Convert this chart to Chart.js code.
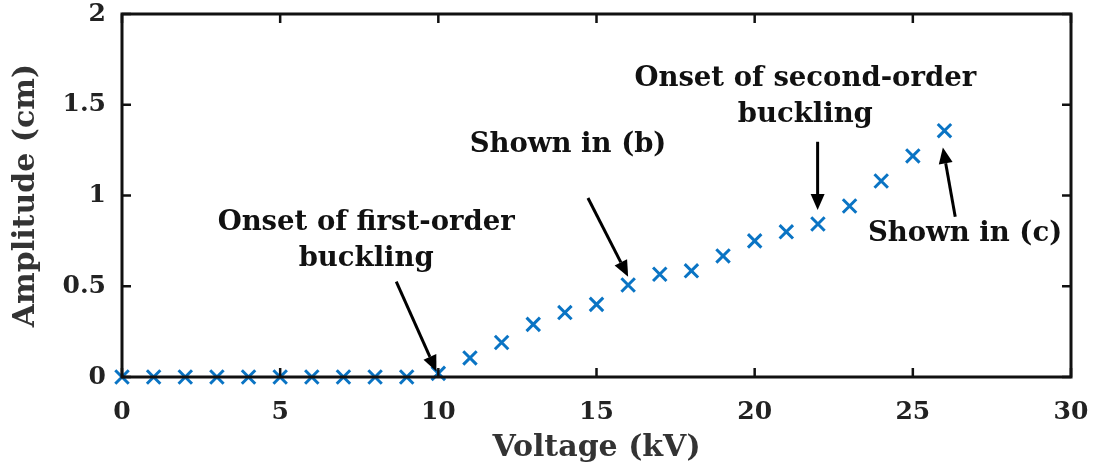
<!DOCTYPE html>
<html>
<head>
<meta charset="utf-8">
<script src="https://cdn.jsdelivr.net/npm/chart.js@4.4.1/dist/chart.umd.min.js"></script>
<style>
  html, body { margin: 0; padding: 0; background: #fff; }
  #wrap { width: 1098px; height: 473px; position: relative; }
</style>
</head>
<body>
<div id="wrap"><canvas id="c"></canvas></div>
<script>
// ---- data ----
const voltage = [0,1,2,3,4,5,6,7,8,9,10,11,12,13,14,15,16,17,18,19,20,21,22,23,24,25,26];
const amplitude = [0,0,0,0,0,0,0,0,0,0,0.02,0.105,0.19,0.29,0.355,0.40,0.507,0.566,0.585,0.667,0.75,0.80,0.843,0.942,1.08,1.218,1.357];
const xTicks = [0,5,10,15,20,25,30];
const yTicks = [0,0.5,1,1.5,2];
const xTitle = 'Voltage (kV)';
const yTitle = 'Amplitude (cm)';

// annotation texts (lines) and anchors in data coordinates
const noteTexts = [
  ['Onset of first-order', 'buckling'],
  ['Shown in (b)'],
  ['Onset of second-order', 'buckling'],
  ['Shown in (c)']
];
const noteAnchors = [[7.72, 0.85], [14.1, 1.28], [21.6, 1.645], [26.65, 0.79]];
const arrowTails = [[8.67, 0.525], [14.73, 0.986], [21.99, 1.296], [26.34, 0.883]];
const arrowHeads = [[9.94, 0.03], [16.0, 0.553], [21.99, 0.92], [25.95, 1.265]];

const FONT = "'DejaVu Serif', serif";

const boxPlugin = {
  id: 'box',
  afterDraw(chart) {
    const ctx = chart.ctx, a = chart.chartArea;
    const xs = chart.scales.x, ys = chart.scales.y;
    ctx.save();
    ctx.strokeStyle = '#111';
    ctx.lineWidth = 3;
    ctx.strokeRect(a.left, a.top, a.right - a.left, a.bottom - a.top);
    ctx.lineWidth = 2.5;
    const tl = 9;
    xTicks.forEach(v => {
      const p = xs.getPixelForValue(v);
      ctx.beginPath();
      ctx.moveTo(p, a.bottom); ctx.lineTo(p, a.bottom - tl);
      ctx.moveTo(p, a.top); ctx.lineTo(p, a.top + tl);
      ctx.stroke();
    });
    yTicks.forEach(v => {
      const p = ys.getPixelForValue(v);
      ctx.beginPath();
      ctx.moveTo(a.left, p); ctx.lineTo(a.left + tl, p);
      ctx.moveTo(a.right, p); ctx.lineTo(a.right - tl, p);
      ctx.stroke();
    });
    ctx.restore();
  }
};

const notePlugin = {
  id: 'notes',
  afterDatasetsDraw(chart) {
    const ctx = chart.ctx;
    const xs = chart.scales.x, ys = chart.scales.y;
    ctx.save();
    ctx.fillStyle = '#111';
    ctx.font = "bold 27.5px " + FONT;
    ctx.textAlign = 'center';
    ctx.textBaseline = 'middle';
    noteTexts.forEach((lines, i) => {
      const cx = xs.getPixelForValue(noteAnchors[i][0]);
      const cy = ys.getPixelForValue(noteAnchors[i][1]);
      lines.forEach((t, j) => ctx.fillText(t, cx, cy + j * 36));
    });
    ctx.strokeStyle = '#000';
    ctx.fillStyle = '#000';
    ctx.lineWidth = 3;
    arrowTails.forEach((t, i) => {
      const x0 = xs.getPixelForValue(t[0]), y0 = ys.getPixelForValue(t[1]);
      const x1 = xs.getPixelForValue(arrowHeads[i][0]), y1 = ys.getPixelForValue(arrowHeads[i][1]);
      const ang = Math.atan2(y1 - y0, x1 - x0);
      const hl = 16, hw = 7;
      const bx = x1 - hl * Math.cos(ang), by = y1 - hl * Math.sin(ang);
      ctx.beginPath();
      ctx.moveTo(x0, y0); ctx.lineTo(bx, by);
      ctx.stroke();
      ctx.beginPath();
      ctx.moveTo(x1, y1);
      ctx.lineTo(bx + hw * Math.sin(ang), by - hw * Math.cos(ang));
      ctx.lineTo(bx - hw * Math.sin(ang), by + hw * Math.cos(ang));
      ctx.closePath();
      ctx.fill();
    });
    ctx.restore();
  }
};

new Chart(document.getElementById('c'), {
  type: 'scatter',
  data: {
    datasets: [{
      data: voltage.map((v, i) => ({ x: v, y: amplitude[i] })),
      pointStyle: 'crossRot',
      pointRadius: 9.5,
      pointBorderWidth: 3,
      borderColor: '#0a74c4',
      backgroundColor: '#0a74c4',
      showLine: false,
      clip: false
    }]
  },
  options: {
    responsive: true,
    maintainAspectRatio: false,
    animation: false,
    events: [],
    layout: { padding: { top: 14, right: 27, left: 0, bottom: 0 } },
    plugins: { legend: { display: false }, tooltip: { enabled: false } },
    scales: {
      x: {
        type: 'linear', min: 0, max: 30,
        afterBuildTicks(s) { s.ticks = xTicks.map(v => ({ value: v })); },
        afterFit(s) { s.height = 96; s.paddingLeft = 0; s.paddingRight = 0; },
        grid: { display: false, drawTicks: false },
        border: { display: false },
        ticks: { color: '#222', padding: 20, font: { family: FONT, size: 25, weight: 'bold' }, maxRotation: 0 },
        title: { display: true, text: xTitle, color: '#333', padding: { top: 0, bottom: 7 }, font: { family: FONT, size: 30, weight: 'bold' } }
      },
      y: {
        type: 'linear', min: 0, max: 2,
        afterBuildTicks(s) { s.ticks = yTicks.map(v => ({ value: v })); },
        afterFit(s) { s.width = 122; s.paddingTop = 0; s.paddingBottom = 0; },
        grid: { display: false, drawTicks: false },
        border: { display: false },
        ticks: { color: '#222', padding: 16, font: { family: FONT, size: 25, weight: 'bold' },
                 callback: v => String(v) },
        title: { display: true, text: yTitle, color: '#333', padding: { top: 8, bottom: 0 }, font: { family: FONT, size: 30, weight: 'bold' } }
      }
    }
  },
  plugins: [boxPlugin, notePlugin]
});
</script>
</body>
</html>
